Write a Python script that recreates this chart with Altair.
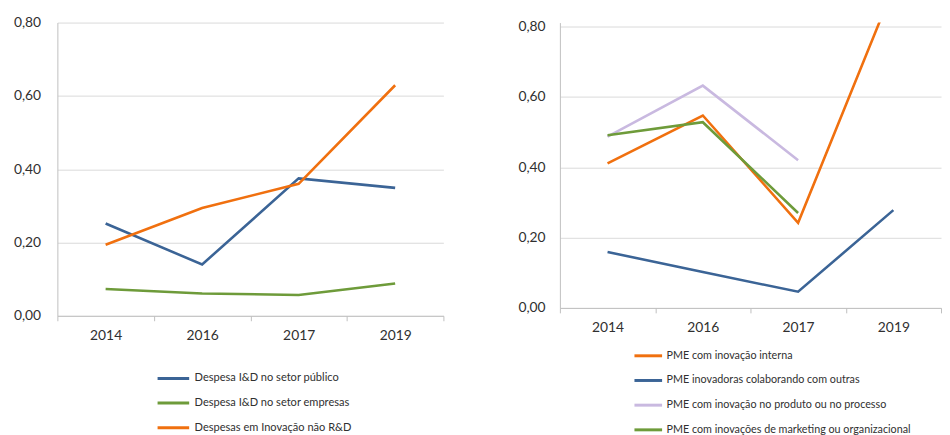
import altair as alt
import pandas as pd

years = ["2014", "2016", "2017", "2019"]

left_names = ["Despesa I&D no setor público", "Despesa I&D no setor empresas", "Despesas em Inovação não R&D"]
left_colors = ["#3B6496", "#6E9B3A", "#F0700F"]
left_publico = [0.252, 0.140, 0.375, 0.349]
left_empresas = [0.073, 0.061, 0.057, 0.088]
left_nao_rd = [0.194, 0.294, 0.360, 0.629]

right_names = ["PME com inovação interna", "PME inovadoras colaborando com outras",
               "PME com inovação no produto ou no processo", "PME com inovações de marketing ou organizacional"]
right_colors = ["#F0700F", "#3B6496", "#C9B9E0", "#6E9B3A"]
right_interna = [0.411, 0.547, 0.242, 0.910]
right_colab = [0.159, 0.102, 0.046, 0.278]
right_produto = [0.487, 0.632, 0.420, None]
right_marketing = [0.491, 0.528, 0.270, None]

y_ticks = [0.0, 0.2, 0.4, 0.6, 0.8]


def long_df(names, series):
    rows = []
    for i, (n, vals) in enumerate(zip(names, series)):
        for y, v in zip(years, vals):
            if v is not None:
                rows.append({"ano": y, "serie": n, "valor": v, "ordem": i})
    return pd.DataFrame(rows)


left_df = long_df(left_names, [left_publico, left_empresas, left_nao_rd])
right_df = long_df(right_names, [right_interna, right_colab, right_produto, right_marketing])

FONT = "Lato"
TXT = "#303030"
label_expr = "replace(format(datum.value, '.2f'), '.', ',')"
D = 23  # legend symbol box


def panel(df, names, colors, w, h, ymax, ylabpad, lx, ly, half_len, loff, lfs, rowpad):
    k = half_len / (D / 2)
    x_axis = alt.Axis(title=None, labelAngle=0, tickBand="extent", grid=False,
                      domainColor="#BFBFBF", tickColor="#BFBFBF", tickSize=5,
                      labelFont=FONT, labelFontSize=14, labelColor=TXT, labelPadding=8)
    y_axis = alt.Axis(title=None, values=y_ticks, labelExpr=label_expr, ticks=False,
                      labelPadding=ylabpad, gridColor="#D9D9D9", domainColor="#BFBFBF",
                      labelFont=FONT, labelFontSize=14, labelColor=TXT)
    legend = alt.Legend(title=None, orient="none", legendX=lx, legendY=ly, direction="vertical",
                        symbolType=f"M{-k:.3f},0L{k:.3f},0", symbolSize=D * D, symbolStrokeWidth=3,
                        labelFont=FONT, labelFontSize=lfs, labelColor=TXT, labelLimit=400,
                        labelOffset=loff, rowPadding=rowpad)
    return alt.Chart(df).mark_line(strokeWidth=2.6, clip=True).encode(
        x=alt.X("ano:N", sort=years, axis=x_axis, scale=alt.Scale(paddingInner=0, paddingOuter=0)),
        y=alt.Y("valor:Q", axis=y_axis, scale=alt.Scale(domain=[0, ymax], nice=False)),
        color=alt.Color("serie:N", sort=names, legend=legend,
                        scale=alt.Scale(domain=names, range=colors)),
        order=alt.Order("ordem:Q"),
        detail="serie:N",
    ).properties(width=w, height=h)


left = panel(left_df, left_names, left_colors, 391, 297, 0.8, 17,
             104.5, 347.5, 16, 8.5, 11.2, 5.9)
right = panel(right_df, right_names, right_colors, 386, 289, 0.8 * 289 / 285, 15,
              76.5, 324.5, 14, 5.5, 10.9, 6.0)

chart = alt.hconcat(left, right, spacing=74).resolve_scale(color="independent").resolve_legend(
    color="independent").configure_view(stroke=None).properties(
    padding={"left": 5, "top": 5, "right": 0, "bottom": 0}, background="white")

chart.save("out.html", embed_options={"renderer": "svg", "actions": False})
